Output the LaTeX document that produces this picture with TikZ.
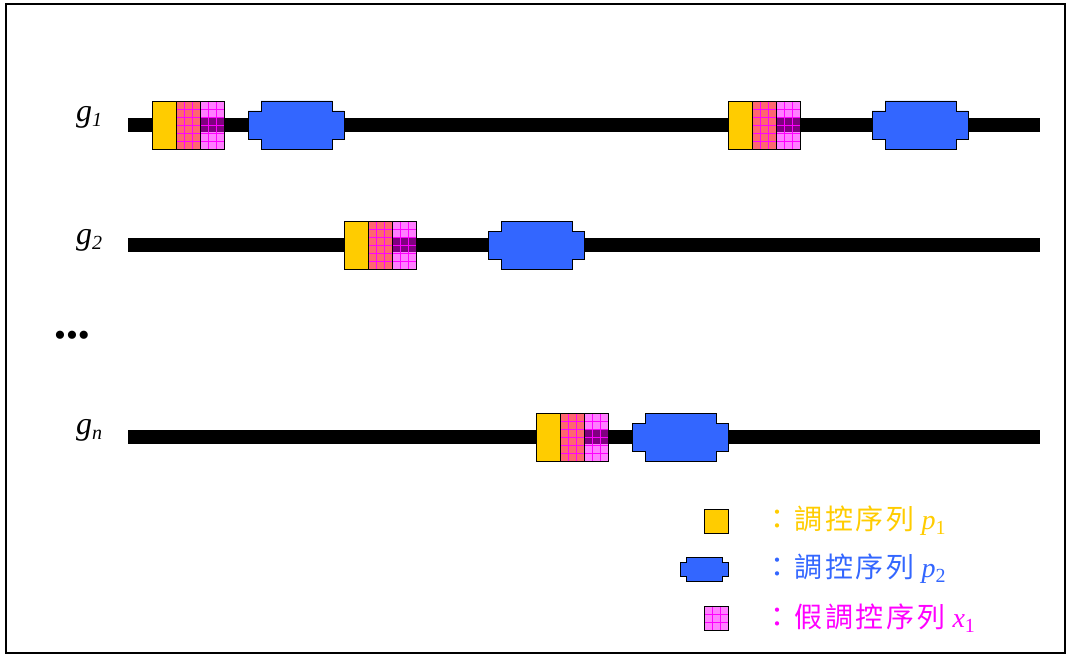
\documentclass[tikz,border=0pt]{standalone}
\usepackage{fontspec}
\setmainfont{Liberation Serif}
\newfontfamily\cjk[LetterSpace=10]{Noto Sans CJK TC}
\definecolor{pyellow}{HTML}{FFCC00}
\definecolor{pblue}{HTML}{3366FF}
\definecolor{pred}{HTML}{FF6670}
\definecolor{pmagenta}{HTML}{FF00FF}
\tikzset{
	genebar/.style={line width=14},
	yellowbox/.style={draw=black,thick,fill=pyellow},
	redbox/.style={draw=black,thick,fill=pred},
	pinkbox/.style={fill=pmagenta,fill opacity=0.5},
	bluebox/.style={draw=black,thick,fill=pblue},
	gridlines/.style={draw=pmagenta,line width=0.5},
	genelabel/.style={font=\fontsize{32}{34}\selectfont\itshape},
	legendtext/.style={anchor=west,font=\fontsize{28}{32}\selectfont}
}
\newcommand{\subs}[1]{\raisebox{-5pt}{\fontsize{20}{20}\selectfont #1}}
\newcommand{\gridbox}[2]{% upper-left corner, 24 wide and 48 high
	\foreach \i in {8,16} \draw [gridlines] (#1+\i,#2) -- ++(0,48);
	\foreach \j in {8,16,...,40} \draw [gridlines] (#1,#2+\j) -- ++(24,0);
}
\begin{document}
\begin{tikzpicture}[x=1pt,y=-1pt]
			\useasboundingbox (0,0) rectangle (1067,655);
			\draw [line width=2] (6,4) rectangle (1065,653);
			
			% gene bars
			\foreach \y in {125,245,437} {
				\draw [genebar] (128,\y) -- (1040,\y);
			}
			
			\node [genelabel] (g1) at (89,117) {g\subs{\itshape 1}};
			\node [genelabel] (g2) at (89,240) {g\subs{\itshape 2}};
			\node [genelabel] (gn) at (89,430) {g\subs{\itshape n}};
			\node [font=\fontsize{34}{36}\selectfont] (dots) at (72,339) {\textbullet\textbullet\textbullet};
			
			% regulatory sequence p1 and pseudo sequence x1
			\foreach \x/\y in {152/125,728/125,344/245,536/437} {
				\draw [yellowbox] (\x,\y-24) rectangle +(24,48);
				\fill [pred] (\x+24,\y-24) rectangle +(24,48);
				\gridbox{\x+24}{\y-24}
				\draw [thick] (\x+24,\y-24) rectangle +(24,48);
				\fill [pinkbox] (\x+48,\y-24) rectangle +(24,48);
				\gridbox{\x+48}{\y-24}
				\draw [thick] (\x+48,\y-24) rectangle +(24,48);
			}
			
			% regulatory sequence p2
			\foreach \x/\y in {248/125,872/125,488/245,632/437} {
				\draw [bluebox] (\x,\y-14) -- (\x+13,\y-14) -- (\x+13,\y-24) -- (\x+84,\y-24) -- (\x+84,\y-14) -- (\x+96,\y-14)
					-- (\x+96,\y+14) -- (\x+84,\y+14) -- (\x+84,\y+24) -- (\x+13,\y+24) -- (\x+13,\y+14) -- (\x,\y+14) -- cycle;
			}
			
			% legend
			\draw [yellowbox] (704,509) rectangle (728,533);
			\begin{scope}[shift={(680,569)},scale=0.5]
				\draw [bluebox] (0,-14) -- (13,-14) -- (13,-24) -- (84,-24) -- (84,-14) -- (96,-14)
					-- (96,14) -- (84,14) -- (84,24) -- (13,24) -- (13,14) -- (0,14) -- cycle;
			\end{scope}
			\fill [pmagenta!50!white] (704,606) rectangle (728,630);
			\foreach \i in {8,16} {
				\draw [gridlines] (704+\i,606) -- ++(0,24);
				\draw [gridlines] (704,606+\i) -- ++(24,0);
			}
			\draw [thick] (704,606) rectangle (728,630);
			
			\node [legendtext,text=pyellow] (lp1) at (760,521) {{\cjk ：調控序列} \textit{p}\subs{1}};
			\node [legendtext,text=pblue] (lp2) at (760,569) {{\cjk ：調控序列} \textit{p}\subs{2}};
			\node [legendtext,text=pmagenta] (lx1) at (760,618) {{\cjk ：假調控序列} \textit{x}\subs{1}};
\end{tikzpicture}
\end{document}
